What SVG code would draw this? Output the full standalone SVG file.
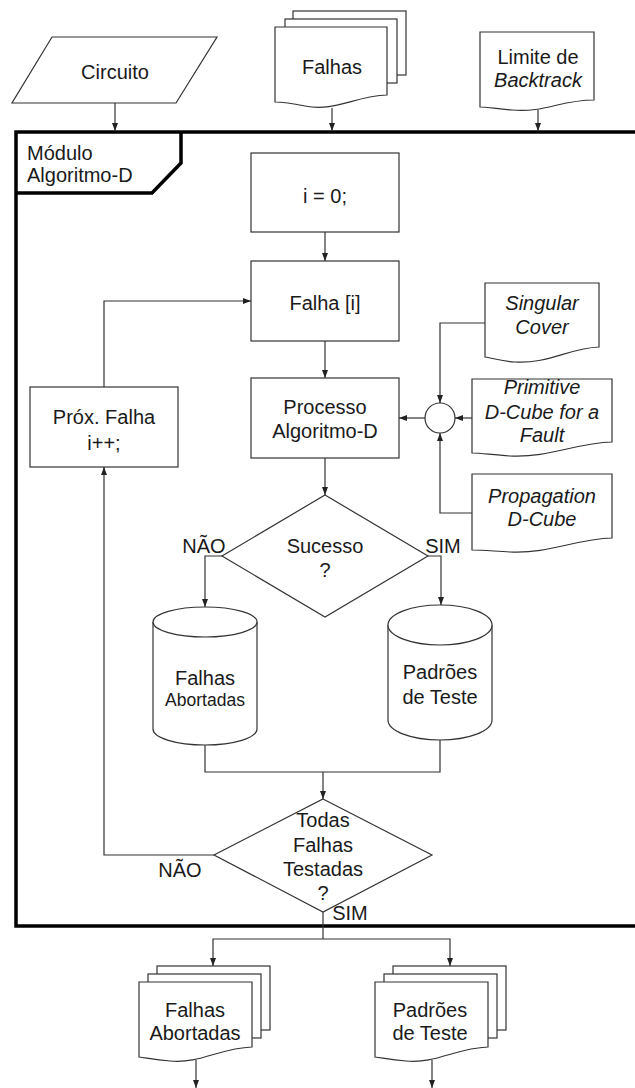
<svg xmlns="http://www.w3.org/2000/svg" width="635" height="1088" viewBox="0 0 635 1088">
  <defs>
    <marker id="arrow" markerUnits="userSpaceOnUse" markerWidth="8" markerHeight="6" refX="8" refY="3" orient="auto">
      <path d="M0,0 L8,3 L0,6 z" fill="#222"/>
    </marker>
    <style>
      .shape { fill: #fff; stroke: #333; stroke-width: 1.2; }
      .line { fill: none; stroke: #333; stroke-width: 1.2; }
      .arr { fill: none; stroke: #333; stroke-width: 1.2; marker-end: url(#arrow); }
      .frame { fill: none; stroke: #000; stroke-width: 3.5; }
      text { font-family: "Liberation Sans", Arial, sans-serif; font-size: 20px; fill: #1a1a1a; text-anchor: middle; }
      .it { font-style: italic; }
      .start { text-anchor: start; }
      .small { font-size: 17.5px; }
    </style>
  </defs>

  <rect width="635" height="1088" fill="#fff"/>

  <!-- inputs -->
  <g id="circuito">
    <path class="shape" d="M52,37 H217 L176,103 H12 Z"/>
    <text x="115" y="79">Circuito</text>
  </g>

  <g id="falhas-in">
    <rect class="shape" x="293" y="11" width="113" height="64"/>
    <rect class="shape" x="285" y="19" width="112" height="64"/>
    <path class="shape" d="M275,27 H387 V95 C355,96 335,112 305,106 C290,103 282,102 275,102 Z"/>
    <text x="332" y="74">Falhas</text>
  </g>

  <g id="limite">
    <path class="shape" d="M480,32 H594 V100 C560,100 545,113 512,110 C497,109 488,107 480,107 Z"/>
    <text x="538" y="64">Limite de</text>
    <text class="it" x="538" y="87">Backtrack</text>
  </g>

  <!-- module frame -->
  <g id="modulo">
    <path class="frame" d="M635,132 H16 V926 H635"/>
    <path class="frame" d="M181,132 V163 L152,193 H16"/>
    <text class="start" x="27" y="160">Módulo</text>
    <text class="start" x="27" y="182">Algoritmo-D</text>
  </g>

  <g id="init">
    <rect class="shape" x="251" y="153" width="148" height="79"/>
    <text x="325" y="203">i = 0;</text>
  </g>

  <g id="falha-i">
    <rect class="shape" x="251" y="261" width="148" height="80"/>
    <text x="325" y="310">Falha [i]</text>
  </g>

  <g id="processo">
    <rect class="shape" x="251" y="378" width="148" height="80"/>
    <text x="325" y="414">Processo</text>
    <text x="325" y="438">Algoritmo-D</text>
  </g>

  <g id="prox">
    <rect class="shape" x="30" y="387" width="148" height="80"/>
    <text x="104" y="424">Próx. Falha</text>
    <text x="104" y="450">i++;</text>
  </g>

  <g id="juncao">
    <circle class="shape" cx="440" cy="418" r="15"/>
  </g>

  <g id="singular">
    <path class="shape" d="M485,283 H599 V347 C570,348 548,364 515,362 C500,361 492,358 485,357 Z"/>
    <text class="it" x="542" y="310">Singular</text>
    <text class="it" x="542" y="334">Cover</text>
  </g>

  <g id="primitive">
    <path class="shape" d="M472,379 H612 V442 C575,443 550,458 510,456 C492,455 482,453 472,453 Z"/>
    <text class="it" x="542" y="394">Primitive</text>
    <text class="it" x="542" y="419">D-Cube for a</text>
    <text class="it" x="542" y="442">Fault</text>
  </g>

  <g id="propagation">
    <path class="shape" d="M472,474 H612 V538 C575,539 550,554 510,552 C492,551 482,550 472,550 Z"/>
    <text class="it" x="542" y="503">Propagation</text>
    <text class="it" x="542" y="526">D-Cube</text>
  </g>

  <g id="sucesso">
    <path class="shape" d="M325,495 L428,556 L325,617 L222,556 Z"/>
    <text x="325" y="553">Sucesso</text>
    <text x="325" y="577">?</text>
  </g>

  <g id="cyl-abortadas">
    <path class="shape" d="M153,622 V729 A52,16 0 0 0 257,729 V622"/>
    <ellipse class="shape" cx="205" cy="622" rx="52" ry="15"/>
    <text x="205" y="685">Falhas</text>
    <text class="small" x="205" y="706">Abortadas</text>
  </g>

  <g id="cyl-padroes">
    <path class="shape" d="M388,625 V720 A52,20 0 0 0 492,720 V625"/>
    <ellipse class="shape" cx="440" cy="625" rx="52" ry="20"/>
    <text x="440" y="679">Padrões</text>
    <text x="440" y="704">de Teste</text>
  </g>

  <g id="todas">
    <path class="shape" d="M323,799 L432,855 L323,912 L214,855 Z"/>
    <text x="323" y="827">Todas</text>
    <text x="323" y="852">Falhas</text>
    <text x="323" y="876">Testadas</text>
    <text x="323" y="900">?</text>
  </g>

  <!-- outputs -->
  <g id="out-abortadas">
    <rect class="shape" x="157" y="966" width="113" height="64"/>
    <rect class="shape" x="148" y="974" width="113" height="64"/>
    <path class="shape" d="M139,982 H252 V1047 C220,1048 200,1064 170,1061 C155,1060 147,1058 139,1057 Z"/>
    <text x="195" y="1017">Falhas</text>
    <text x="195" y="1040">Abortadas</text>
  </g>

  <g id="out-padroes">
    <rect class="shape" x="393" y="966" width="113" height="64"/>
    <rect class="shape" x="384" y="974" width="113" height="64"/>
    <path class="shape" d="M375,982 H488 V1047 C456,1048 436,1064 406,1061 C391,1060 383,1058 375,1057 Z"/>
    <text x="430" y="1017">Padrões</text>
    <text x="430" y="1040">de Teste</text>
  </g>

  <!-- labels on branches -->
  <g id="labels">
    <text x="204" y="553">NÃO</text>
    <text x="443" y="553">SIM</text>
    <text x="180" y="877">NÃO</text>
    <text x="350" y="920">SIM</text>
  </g>

  <!-- connectors -->
  <g id="connectors">
    <path class="arr" d="M115,103 V131"/>
    <path class="arr" d="M332,108 V131"/>
    <path class="arr" d="M538,110 V131"/>
    <path class="arr" d="M325,232 V261"/>
    <path class="arr" d="M325,341 V378"/>
    <path class="arr" d="M325,458 V495"/>
    <path class="arr" d="M104,387 V301 H251"/>
    <path class="arr" d="M485,323 H440 V403"/>
    <path class="arr" d="M472,418 H455"/>
    <path class="arr" d="M472,513 H440 V433"/>
    <path class="arr" d="M425,418 H399"/>
    <path class="arr" d="M222,556 H205 V607"/>
    <path class="arr" d="M428,556 H441 V605"/>
    <path class="line" d="M205,745 V772 H440 V740"/>
    <path class="arr" d="M323,772 V799"/>
    <path class="arr" d="M214,855 H104 V467"/>
    <path class="line" d="M323,912 V939"/>
    <path class="arr" d="M323,939 H213 V966"/>
    <path class="arr" d="M323,939 H450 V966"/>
    <path class="arr" d="M196,1060 V1088"/>
    <path class="arr" d="M432,1060 V1088"/>
  </g>
</svg>
